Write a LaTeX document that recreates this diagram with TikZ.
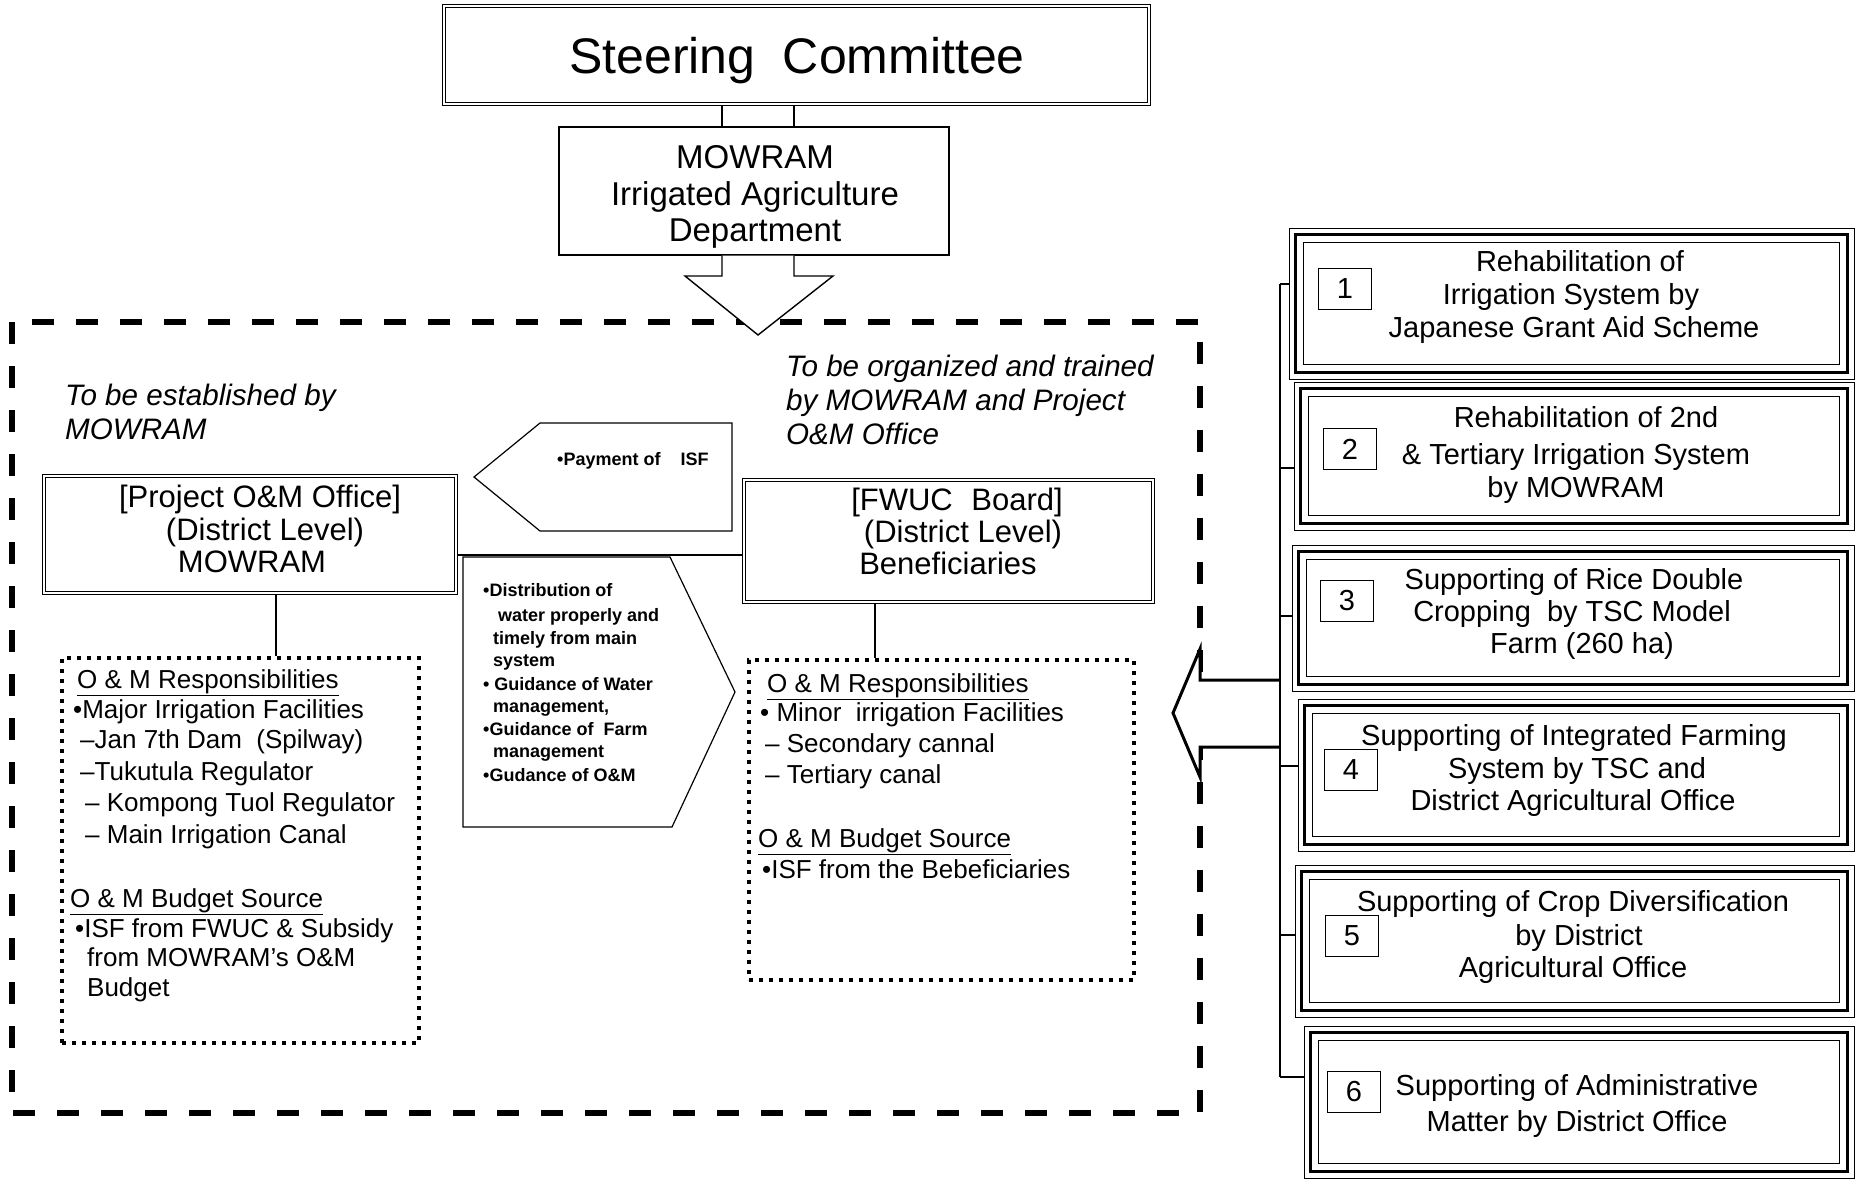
\documentclass[tikz,border=0pt]{standalone}
\usepackage{fontspec}
\setmainfont{Liberation Sans}
\newcommand\myfs[2]{\fontsize{#1}{#2}\selectfont}
\begin{document}
\begin{tikzpicture}[x=1pt,y=-1pt,
  every node/.style={inner sep=0pt},
  dbox/.style={draw, double, double distance=2.5pt, line width=1.1pt},
  sbox/.style={draw, line width=1.2pt},
  rbox/.style={draw, line width=1pt},
  nbox/.style={draw, line width=1pt, minimum width=53pt, minimum height=41pt, font=\myfs{29}{33}},
  tl/.style={anchor=base west},
  tc/.style={anchor=base},
  dotbox/.style={draw, line width=4pt, dash pattern=on 4pt off 6pt},
  conn/.style={line width=1.2pt},
  bigtxt/.style={font=\myfs{50}{60}},
  midtxt/.style={font=\myfs{33}{37}},
  boxtxt/.style={font=\myfs{31}{33}},
  itxt/.style={font=\myfs{29.6}{34}\itshape},
  dtxt/.style={font=\myfs{26}{30}},
  stxt/.style={font=\myfs{18}{22}\bfseries},
  rtxt/.style={font=\myfs{29}{33}},
]
\useasboundingbox (0,0) rectangle (1858,1183);
\fill[white] (0,0) rectangle (1858,1183);

% top
\node[dbox, minimum width=705pt, minimum height=98pt] (steer) at (796.5,55) {};
\node[tc, bigtxt] (steert) at (797,73) {Steering\hspace{0.55em}Committee};
\node[sbox, minimum width=390pt, minimum height=128pt] (mow) at (754,191) {};
\node[tc, midtxt] (mow1) at (755,168) {MOWRAM};
\node[tc, midtxt] (mow2) at (755,205) {Irrigated Agriculture};
\node[tc, midtxt] (mow3) at (755,241) {Department};

\coordinate (l1) at (722,0);
\coordinate (l2) at (794,0);
\draw[conn] (steer.south -| l1) -- (mow.north -| l1);
\draw[conn] (steer.south -| l2) -- (mow.north -| l2);

% big dashed frame
\draw[line width=6pt, dash pattern=on 22pt off 22pt] (12,322) rectangle (1200,1113);

% down arrow
\draw[line width=1.4pt, fill=white] (mow.south -| l1) -- (722,276) -- (685,276) -- (758,335) -- (833,276) -- (794,276) -- (mow.south -| l2);

% headings
\node[tl, itxt] (h1a) at (65,405) {To be established by};
\node[tl, itxt] (h1b) at (65,439) {MOWRAM};
\node[tl, itxt] (h2a) at (786,376) {To be organized and trained};
\node[tl, itxt] (h2b) at (786,410) {by MOWRAM and Project};
\node[tl, itxt] (h2c) at (786,444) {O\&M Office};

% Project O&M office
\node[dbox, minimum width=412pt, minimum height=117pt] (proj) at (250,534.5) {};
\node[tc, boxtxt] (proj1) at (260,507) {[Project O\&M Office]};
\node[tc, boxtxt] (proj2) at (265,540) {(District Level)};
\node[tc, boxtxt] (proj3) at (252,572) {MOWRAM};

% FWUC board
\node[dbox, minimum width=409pt, minimum height=122pt] (fwuc) at (948.5,541) {};
\node[tc, boxtxt] (fwuc1) at (957,510) {[FWUC\hspace{0.6em}Board]};
\node[tc, boxtxt] (fwuc2) at (963,542) {(District Level)};
\node[tc, boxtxt] (fwuc3) at (948,574) {Beneficiaries};

\coordinate (ly) at (0,555);
\draw[conn] (proj.east |- ly) -- (fwuc.west |- ly);

% payment arrow
\draw[line width=1.2pt] (732,423) -- (540,423) -- (474,477) -- (540,531) -- (732,531) -- cycle;
\node[tl, stxt] (pay) at (557,465) {•Payment of\hspace{20pt}ISF};

% distribution arrow
\draw[line width=1.2pt] (463,557) -- (670,557) -- (735,692) -- (672,827) -- (463,827) -- cycle;
\node[tl, stxt] (d1) at (483,596) {•Distribution of};
\node[tl, stxt] (d2) at (498,621) {water properly and};
\node[tl, stxt] (d3) at (493,644) {timely from main};
\node[tl, stxt] (d4) at (493,666) {system};
\node[tl, stxt] (d5) at (483,690) {•\ Guidance of Water};
\node[tl, stxt] (d6) at (493,712) {management,};
\node[tl, stxt] (d7) at (483,735) {•Guidance of\ \ Farm};
\node[tl, stxt] (d8) at (493,757) {management};
\node[tl, stxt] (d9) at (483,781) {•Gudance of O\&M};

% dotted boxes
\node[dotbox, minimum width=357pt, minimum height=385pt] (ldot) at (240.5,850.5) {};
\node[dotbox, minimum width=385pt, minimum height=320pt] (rdot) at (941.5,820) {};
\coordinate (lx) at (276,0);
\coordinate (rx) at (875,0);
\draw[conn] (proj.south -| lx) -- (ldot.north -| lx);
\draw[conn] (fwuc.south -| rx) -- (rdot.north -| rx);

\node[tl, dtxt] (la1) at (77,688) {\underline{O \& M Responsibilities}};
\node[tl, dtxt] (la2) at (73,718) {•Major Irrigation Facilities};
\node[tl, dtxt] (la3) at (80,748) {–Jan 7th Dam\ \ (Spilway)};
\node[tl, dtxt] (la4) at (80,780) {–Tukutula Regulator};
\node[tl, dtxt] (la5) at (85,811) {– Kompong Tuol Regulator};
\node[tl, dtxt] (la6) at (85,843) {– Main Irrigation Canal};
\node[tl, dtxt] (la7) at (70,907) {\underline{O \& M Budget Source}};
\node[tl, dtxt] (la8) at (75,937) {•ISF from FWUC \& Subsidy};
\node[tl, dtxt] (la9) at (87,966) {from MOWRAM's O\&M};
\node[tl, dtxt] (la10) at (87,996) {Budget};

\node[tl, dtxt] (ra1) at (767,692) {\underline{O \& M Responsibilities}};
\node[tl, dtxt] (ra2) at (760,721) {•\ Minor\ \ irrigation Facilities};
\node[tl, dtxt] (ra3) at (765,752) {– Secondary cannal};
\node[tl, dtxt] (ra4) at (765,783) {– Tertiary canal};
\node[tl, dtxt] (ra5) at (758,847) {\underline{O \& M Budget Source}};
\node[tl, dtxt] (ra6) at (762,878) {•ISF from the Bebeficiaries};

% right boxes
\node[rbox, minimum width=565pt, minimum height=151pt] (b1) at (1571.5,303.5) {};
\node[rbox, minimum width=560pt, minimum height=148pt] (b2) at (1574,456) {};
\node[rbox, minimum width=562pt, minimum height=146pt] (b3) at (1573,618) {};
\node[rbox, minimum width=556pt, minimum height=152pt] (b4) at (1576,775) {};
\node[rbox, minimum width=559pt, minimum height=152pt] (b5) at (1574.5,941) {};
\node[rbox, minimum width=550pt, minimum height=152pt] (b6) at (1579,1102) {};
\foreach \b in {b1,b2,b3,b4,b5,b6} {
  \draw[line width=2.4pt] ([shift={(7,7)}]\b.north west) rectangle ([shift={(-7,-7)}]\b.south east);
  \draw[line width=1pt] ([shift={(15,15)}]\b.north west) rectangle ([shift={(-15,-15)}]\b.south east);
}
\node[nbox] (n1) at (1345,289) {1};
\node[nbox] (n2) at (1350,449) {2};
\node[nbox] (n3) at (1347,601) {3};
\node[nbox] (n4) at (1351,770) {4};
\node[nbox] (n5) at (1352,936) {5};
\node[nbox] (n6) at (1354,1092) {6};

\node[tc, rtxt] (r11) at (1580,271) {Rehabilitation of};
\node[tc, rtxt] (r12) at (1571,304) {Irrigation System by};
\node[tc, rtxt] (r13) at (1574,337) {Japanese Grant Aid Scheme};
\node[tc, rtxt] (r21) at (1586,427) {Rehabilitation of 2nd};
\node[tc, rtxt] (r22) at (1576,464) {\& Tertiary Irrigation System};
\node[tc, rtxt] (r23) at (1576,497) {by MOWRAM};
\node[tc, rtxt] (r31) at (1574,589) {Supporting of Rice Double};
\node[tc, rtxt] (r32) at (1572,621) {Cropping\ \ by TSC Model};
\node[tc, rtxt] (r33) at (1582,653) {Farm (260 ha)};
\node[tc, rtxt] (r41) at (1574,745) {Supporting of Integrated Farming};
\node[tc, rtxt] (r42) at (1577,778) {System by TSC and};
\node[tc, rtxt] (r43) at (1573,810) {District Agricultural Office};
\node[tc, rtxt] (r51) at (1573,911) {Supporting of Crop Diversification};
\node[tc, rtxt] (r52) at (1579,945) {by District};
\node[tc, rtxt] (r53) at (1573,977) {Agricultural Office};
\node[tc, rtxt] (r61) at (1577,1095) {Supporting of Administrative};
\node[tc, rtxt] (r62) at (1577,1131) {Matter by District Office};

% bus and ticks
\coordinate (t1) at (1280,284);
\coordinate (t2) at (1280,468);
\coordinate (t3) at (1280,616);
\coordinate (t4) at (1280,766);
\coordinate (t5) at (1280,935);
\coordinate (t6) at (1280,1077);
\coordinate (s1) at (1280,680);
\coordinate (s2) at (1280,747);

% big left arrow
\draw[line width=3pt, fill=white, line join=miter] (s1) -- (1200,680) -- (1200,649) -- (1173,713) -- (1200,777) -- (1200,747) -- (s2);

\draw[line width=1.6pt] (t1) -- (t6);
\foreach \t/\b in {t1/b1,t2/b2,t3/b3,t4/b4,t5/b5,t6/b6} {
  \draw[line width=1.6pt] (\t) -- (\b.west |- \t);
}
\end{tikzpicture}
\end{document}
